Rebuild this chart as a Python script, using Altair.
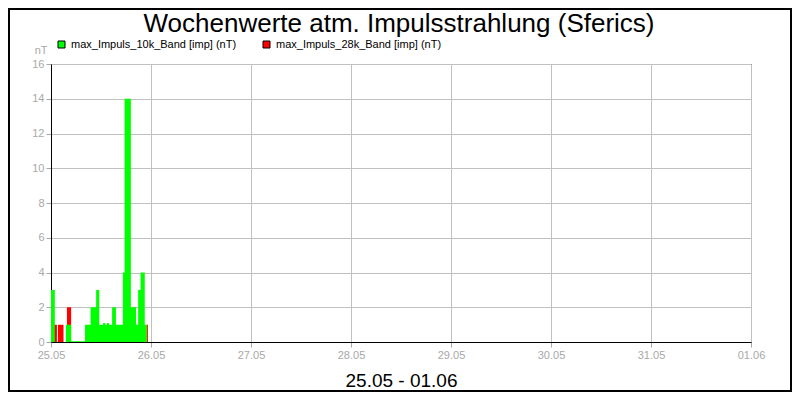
import altair as alt
import pandas as pd

day = "2024-05-25"
title_text = "Wochenwerte atm. Impulsstrahlung (Sferics)"
x_title = "25.05 - 01.06"
y_title = "nT"

series_names = ["max_Impuls_10k_Band [imp] (nT)", "max_Impuls_28k_Band [imp] (nT)"]
series_colors = ["#00ff00", "#ff0000"]

green_times = ["00:00", "00:55", "03:35", "04:50", "08:10", "09:30", "10:50", "11:35",
               "12:30", "13:00", "13:25", "13:55", "14:40", "15:35", "17:15", "17:40",
               "19:10", "20:25", "20:55", "21:30", "22:30", "23:00"]
green_values = [3, 0, 1, 0.05, 1, 2, 3, 1, 1.1, 1, 1.1, 1, 2, 1, 4, 14, 2, 1, 3, 4, 1, 0]

red_times = ["00:00", "01:25", "01:40", "03:00", "03:50", "04:50", "22:55", "23:15"]
red_values = [1, 0, 1, 0, 2, 0, 1, 0]

tick_days = [(5, 25), (5, 26), (5, 27), (5, 28), (5, 29), (5, 30), (5, 31), (6, 1)]
y_ticks = [0, 2, 4, 6, 8, 10, 12, 14, 16]

FONT = "Liberation Sans"
GREY = "#a8a8a8"

green_df = pd.DataFrame({
    "time": [f"{day}T{t}:00" for t in green_times],
    "value": green_values,
    "series": series_names[0],
})
red_df = pd.DataFrame({
    "time": [f"{day}T{t}:00" for t in red_times],
    "value": red_values,
    "series": series_names[1],
})

color_scale = alt.Scale(domain=series_names, range=series_colors)
legend = alt.Legend(
    orient="none", legendX=5, legendY=-25, direction="horizontal", title=None,
    symbolType="square", symbolSize=49, symbolStrokeColor="black", symbolStrokeWidth=1,
    symbolOpacity=1, labelFontSize=11, labelColor="black", labelFont=FONT,
    labelLimit=0, columnPadding=24, padding=0, labelOffset=4,
)

x_enc = alt.X(
    "time:T",
    scale=alt.Scale(domain=[alt.DateTime(year=2024, month=5, date=25),
                            alt.DateTime(year=2024, month=6, date=1)]),
    axis=alt.Axis(
        values=[alt.DateTime(year=2024, month=m, date=d) for m, d in tick_days],
        format="%d.%m", title=x_title, labelColor=GREY, labelFontSize=11, labelFont=FONT,
        labelFlush=False, labelOverlap=False,
        tickColor=GREY, tickSize=5, labelPadding=2, gridColor="#c0c0c0",
        domainColor="black", titleColor="black", titleFontSize=19, titleFont=FONT,
        titleFontWeight="normal", titleBaseline="alphabetic", titleY=44,
    ),
)
y_enc = alt.Y(
    "value:Q",
    scale=alt.Scale(domain=[0, 16], nice=False),
    axis=alt.Axis(
        values=y_ticks, title=y_title, titleAngle=0, titleAlign="right",
        titleBaseline="alphabetic", titleX=-4, titleY=-11, titleColor=GREY,
        titleFontSize=11, titleFontWeight="normal", titleFont=FONT,
        labelColor=GREY, labelFontSize=11, labelFont=FONT, tickColor=GREY, tickSize=5,
        labelPadding=2, gridColor="#c0c0c0", domainColor="black",
    ),
)

red = alt.Chart(red_df).mark_area(interpolate="step-after", opacity=1).encode(
    x=x_enc, y=y_enc, color=alt.Color("series:N", scale=color_scale, legend=legend)
)
green = alt.Chart(green_df).mark_area(interpolate="step-after", opacity=1).encode(
    x=x_enc, y=y_enc, color=alt.Color("series:N", scale=color_scale, legend=legend)
)

one = pd.DataFrame({"k": [0]})
title_mark = alt.Chart(one).mark_text(
    fontSize=26, font=FONT, baseline="alphabetic", align="center", color="black"
).encode(x=alt.value(348), y=alt.value(-32), text=alt.value(title_text))

border = alt.Chart(one).mark_rect(filled=False, stroke="black", strokeWidth=2).encode(
    x=alt.value(-42), x2=alt.value(740), y=alt.value(-55), y2=alt.value(327)
)

chart = alt.layer(red, green, title_mark, border).properties(
    width=700, height=278,
    autosize=alt.AutoSizeParams(type="none"),
    padding={"left": 43, "top": 56, "right": 41, "bottom": 50},
    background="white",
).configure_view(stroke="black", strokeWidth=1)

chart.save("out.html", embed_options={"renderer": "svg", "actions": False})
